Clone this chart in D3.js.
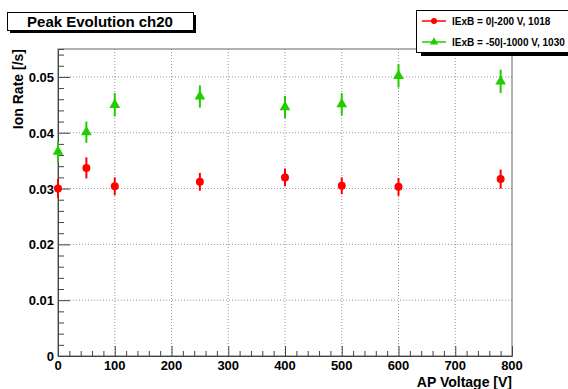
<!DOCTYPE html>
<html>
<head>
<meta charset="utf-8">
<script src="https://cdn.jsdelivr.net/npm/d3@7"></script>
<style>
  body { margin: 0; background: #fff; }
  text { font-family: "Liberation Sans", Arial, Helvetica, sans-serif; font-weight: 700; }
</style>
</head>
<body>
<div id="vis"></div>
<script>
const width = 568;
const height = 389;
const margin = { left: 58, right: 56, top: 49, bottom: 33 };

// data
const voltages = [0, 50, 100, 250, 400, 500, 600, 780];
const redRate = [0.0300, 0.0337, 0.0304, 0.0312, 0.0320, 0.0305, 0.0303, 0.0317];
const redErr = [0.0017, 0.0019, 0.0016, 0.0016, 0.0016, 0.0015, 0.0016, 0.0017];
const greenRate = [0.0366, 0.0401, 0.0450, 0.0465, 0.0446, 0.0451, 0.0502, 0.0492];
const greenErr = [0.0018, 0.0019, 0.0021, 0.0020, 0.0020, 0.0020, 0.0021, 0.0021];
const xTicks = [0, 100, 200, 300, 400, 500, 600, 700, 800];
const yTicks = [0, 0.01, 0.02, 0.03, 0.04, 0.05];
const legendLabels = ["lExB = 0|-200 V, 1018", "lExB = -50|-1000 V, 1030"];
const colors = ["#ff0000", "#22cc00"];

let svg = d3.select("#vis")
    .append("svg")
    .attr("width", width)
    .attr("height", height);

let x = d3.scaleLinear().domain([0, 800]).range([margin.left, width - margin.right]);
let y = d3.scaleLinear().domain([0, 0.055]).range([height - margin.bottom, margin.top]);

//grid lines
svg.append("g").selectAll("line")
    .data(xTicks.slice(1, -1))
    .enter().append("line")
    .attr("x1", d => x(d)).attr("x2", d => x(d))
    .attr("y1", y(0)).attr("y2", y(0.055))
    .attr("stroke", "#999").attr("stroke-dasharray", "1,2");
svg.append("g").selectAll("line")
    .data(yTicks.slice(1))
    .enter().append("line")
    .attr("x1", x(0)).attr("x2", x(800))
    .attr("y1", d => y(d)).attr("y2", d => y(d))
    .attr("stroke", "#999").attr("stroke-dasharray", "1,2");

//frame
svg.append("rect")
    .attr("x", x(0)).attr("y", y(0.055))
    .attr("width", x(800) - x(0)).attr("height", y(0) - y(0.055))
    .attr("fill", "none").attr("stroke", "#666").attr("stroke-width", 1);

//ticks, inside the frame (ROOT style)
let xAxis = svg.append("g")
    .attr("transform", "translate(0," + y(0) + ")")
    .call(d3.axisTop(x).tickValues(d3.range(0, 801, 20)).tickSize(5).tickFormat(""));
xAxis.selectAll(".tick line").filter(d => d % 100 === 0).attr("y2", -10);
xAxis.select(".domain").attr("stroke", "#444");

let yAxis = svg.append("g")
    .attr("transform", "translate(" + x(0) + ",0)")
    .call(d3.axisRight(y).tickValues(d3.range(0, 56).map(i => i * 0.001)).tickSize(6).tickFormat(""));
yAxis.selectAll(".tick line").filter((d, i) => i % 10 === 0).attr("x2", 12);
yAxis.selectAll(".tick line").filter((d, i) => i % 2 === 1).remove();
yAxis.select(".domain").attr("stroke", "#444");
svg.selectAll(".tick line").attr("stroke", "#444");

//tick labels
svg.append("g").selectAll("text")
    .data(xTicks)
    .enter().append("text")
    .attr("x", d => x(d)).attr("y", y(0) + 14)
    .attr("text-anchor", "middle").attr("font-size", 13)
    .text(d => d);
svg.append("g").selectAll("text")
    .data(yTicks)
    .enter().append("text")
    .attr("x", x(0) - 4).attr("y", d => y(d) + 5)
    .attr("text-anchor", "end").attr("font-size", 13)
    .text(d => d === 0 ? "0" : d.toFixed(2));

//axis titles
svg.append("text")
    .attr("x", x(800)).attr("y", 387)
    .attr("text-anchor", "end").attr("font-size", 14)
    .text("AP Voltage [V]");
svg.append("text")
    .attr("transform", "translate(23," + margin.top + ") rotate(-90)")
    .attr("text-anchor", "end").attr("font-size", 14)
    .text("Ion Rate [/s]");

//series
const series = [
    { rate: redRate, err: redErr, color: colors[0], marker: "circle" },
    { rate: greenRate, err: greenErr, color: colors[1], marker: "triangle" }
];
series.forEach(s => {
    let g = svg.append("g");
    g.selectAll("line")
        .data(voltages)
        .enter().append("line")
        .attr("x1", d => x(d)).attr("x2", d => x(d))
        .attr("y1", (d, i) => y(s.rate[i] - s.err[i]))
        .attr("y2", (d, i) => y(s.rate[i] + s.err[i]))
        .attr("stroke", s.color).attr("stroke-width", 2);
    if (s.marker === "circle") {
        g.selectAll("circle")
            .data(voltages)
            .enter().append("circle")
            .attr("cx", d => x(d)).attr("cy", (d, i) => y(s.rate[i]))
            .attr("r", 4).attr("fill", s.color);
    } else {
        g.selectAll("path")
            .data(voltages)
            .enter().append("path")
            .attr("transform", (d, i) => "translate(" + x(d) + "," + y(s.rate[i]) + ")")
            .attr("d", d3.symbol(d3.symbolTriangle, 50))
            .attr("fill", s.color);
    }
});

//title box
svg.append("rect").attr("x", 10).attr("y", 15).attr("width", 186).attr("height", 18).attr("fill", "#000");
svg.append("rect").attr("x", 7.5).attr("y", 12.5).attr("width", 186).attr("height", 18)
    .attr("fill", "#fff").attr("stroke", "#000");
svg.append("text").attr("x", 100).attr("y", 27).attr("text-anchor", "middle")
    .attr("font-size", 15).text("Peak Evolution ch20");

//legend (runs off the right edge, as in the original)
svg.append("rect").attr("x", 421).attr("y", 14).attr("width", 160).attr("height", 42).attr("fill", "#000");
svg.append("rect").attr("x", 416.5).attr("y", 10.5).attr("width", 160).attr("height", 42)
    .attr("fill", "#fff").attr("stroke", "#000");
legendLabels.forEach((label, i) => {
    let ly = 21 + i * 21;
    svg.append("line").attr("x1", 422).attr("x2", 446).attr("y1", ly).attr("y2", ly)
        .attr("stroke", colors[i]).attr("stroke-width", 1.5);
    if (i === 0) {
        svg.append("circle").attr("cx", 434).attr("cy", ly).attr("r", 3).attr("fill", colors[i]);
    } else {
        svg.append("path").attr("transform", "translate(434," + ly + ")")
            .attr("d", d3.symbol(d3.symbolTriangle, 30)).attr("fill", colors[i]);
    }
    svg.append("text").attr("x", 452).attr("y", ly + 3.5)
        .attr("font-size", 10).text(label);
});
</script>
</body>
</html>
